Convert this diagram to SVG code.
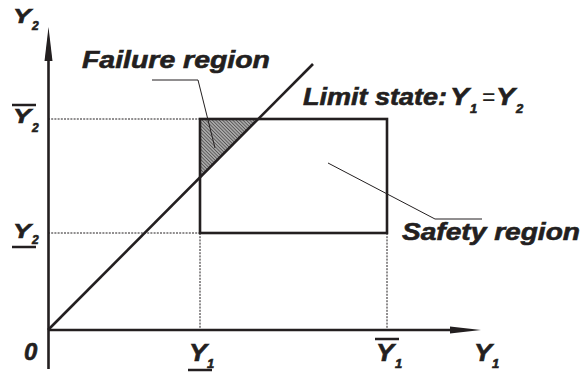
<svg xmlns="http://www.w3.org/2000/svg" width="583" height="376" viewBox="0 0 583 376">
<style>
.t{font-family:"Liberation Sans",Arial,sans-serif;font-weight:bold;font-style:italic;fill:#231f20;stroke:#231f20;stroke-width:0.6}
.ax{stroke:#231f20;stroke-width:2.6;fill:none}
.dot{stroke:#231f20;stroke-width:1;stroke-dasharray:2 1.2;fill:none}
.ld{stroke:#231f20;stroke-width:1;fill:none}
.ul{stroke:#231f20;stroke-width:2.5}
</style>
<defs>
<pattern id="hatch" width="2.4" height="2.4" patternUnits="userSpaceOnUse" patternTransform="rotate(-45)">
<rect width="2.4" height="2.4" fill="#a8a8a8"/>
<line x1="0" y1="0" x2="0" y2="2.4" stroke="#231f20" stroke-width="1"/>
</pattern>
</defs>
<rect width="583" height="376" fill="#fff"/>
<g id="connectors">
<polygon points="200,119 258,119 200,177.4" fill="url(#hatch)"/>
<line class="dot" x1="48" y1="119" x2="200" y2="119"/>
<line class="dot" x1="48" y1="233" x2="200" y2="233"/>
<line class="dot" x1="200" y1="233" x2="200" y2="330"/>
<line class="dot" x1="387" y1="233" x2="387" y2="330"/>
<line class="ax" x1="48.5" y1="50" x2="48.5" y2="369"/>
<polygon points="48.5,27 52.5,61 44.5,61" fill="#231f20"/>
<line class="ax" x1="48" y1="330" x2="455" y2="330"/>
<polygon points="481,330 450,326.5 450,333.5" fill="#231f20"/>
<line class="ax" x1="48" y1="330" x2="313" y2="64"/>
<polyline class="ld" points="152,80 198,80 215,148"/>
<polyline class="ld" points="328,163 435,219 482,219"/>
</g>
<g id="rect-safety">
<rect x="200" y="119" width="187" height="114" class="ax"/>
</g>
<g id="label-failure">
<text class="t" x="82" y="68" font-size="24" textLength="188" lengthAdjust="spacingAndGlyphs">Failure region</text>
</g>
<g id="label-limit">
<text class="t" font-size="23"><tspan x="303" y="105" textLength="144" lengthAdjust="spacingAndGlyphs">Limit state:</tspan><tspan x="450" y="105" textLength="19" lengthAdjust="spacingAndGlyphs">Y</tspan><tspan x="470" y="113" font-size="13">1</tspan><tspan x="482" y="105" font-style="normal" font-weight="normal" stroke-width="0">=</tspan><tspan x="496" y="105" textLength="19" lengthAdjust="spacingAndGlyphs">Y</tspan><tspan x="516" y="113" font-size="13">2</tspan></text>
</g>
<g id="label-safety">
<text class="t" x="402" y="240" font-size="24" textLength="178" lengthAdjust="spacingAndGlyphs">Safety region</text>
</g>
<g id="axis-labels">
<text class="t" font-size="21"><tspan x="13" y="23" textLength="18" lengthAdjust="spacingAndGlyphs">Y</tspan><tspan x="32" y="30" font-size="12">2</tspan></text>
<line class="ul" x1="12" y1="105" x2="36" y2="105"/>
<text class="t" font-size="21"><tspan x="13" y="123" textLength="18" lengthAdjust="spacingAndGlyphs">Y</tspan><tspan x="32" y="132" font-size="12">2</tspan></text>
<text class="t" font-size="21"><tspan x="13" y="238" textLength="18" lengthAdjust="spacingAndGlyphs">Y</tspan><tspan x="32" y="244" font-size="12">2</tspan></text>
<line class="ul" x1="12" y1="247" x2="36" y2="247"/>
<text class="t" x="24" y="360" font-size="24">0</text>
<text class="t" font-size="24"><tspan x="189" y="361" textLength="18" lengthAdjust="spacingAndGlyphs">Y</tspan><tspan x="207" y="368" font-size="13">1</tspan></text>
<line class="ul" x1="188" y1="370" x2="212" y2="370"/>
<text class="t" font-size="24"><tspan x="376" y="361" textLength="18" lengthAdjust="spacingAndGlyphs">Y</tspan><tspan x="395" y="368" font-size="13">1</tspan></text>
<line class="ul" x1="375" y1="339" x2="399" y2="339"/>
<text class="t" font-size="24"><tspan x="474" y="361" textLength="18" lengthAdjust="spacingAndGlyphs">Y</tspan><tspan x="492" y="368" font-size="13">1</tspan></text>
</g>
</svg>
